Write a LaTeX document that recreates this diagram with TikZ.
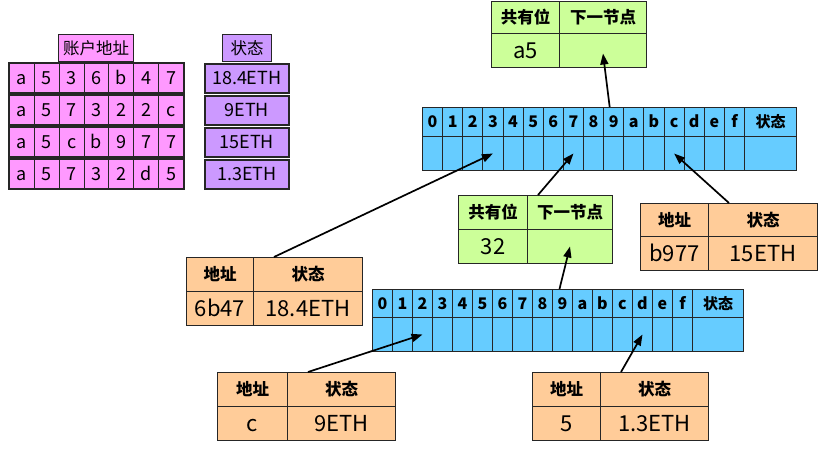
\documentclass[tikz,border=0pt]{standalone}
\usepackage{fontspec}
\setmainfont{Noto Sans CJK SC}
\usetikzlibrary{arrows.meta}
\definecolor{pinkc}{HTML}{FF99FF}
\definecolor{purc}{HTML}{CC99FF}
\definecolor{greenc}{HTML}{CCFF99}
\definecolor{orangec}{HTML}{FFCC99}
\definecolor{bluec}{HTML}{66CCFF}
\newcommand\mycell[8]{\node[cellb, fill=#6, minimum width=#4pt, minimum height=#5pt, #7] (#1) at (#2,#3) {#8};}
\begin{document}
\begin{tikzpicture}[x=1pt,y=-1pt,
  cellb/.style={draw=black!85, line width=1pt, inner sep=0pt, anchor=north west, text depth=0pt},
  conn/.style={line width=1.7pt, -{Triangle[length=11pt,width=8pt]}},
  tl/.style={font=\fontsize{18}{20}\selectfont, text height=13.1pt},
  tlh/.style={font=\fontsize{16.5}{18}\selectfont, text height=12pt},
  bh/.style={font=\bfseries\fontsize{16}{18}\selectfont, text height=11.7pt},
  bhs/.style={font=\bfseries\fontsize{15}{17}\selectfont, text height=11pt},
  hh/.style={font=\bfseries\fontsize{16.5}{18}\selectfont, text height=12pt},
  vv/.style={font=\fontsize{22}{24}\selectfont, text height=16pt}]
\useasboundingbox (0,0) rectangle (827,466);
% top-left table
\mycell{hAddr}{58}{34}{75}{27}{pinkc}{tlh}{账户地址}
\mycell{hSt}{222}{34}{49}{27}{purc}{tlh}{状态}
\foreach \r/\y/\s/\v in {1/63/{a,5,3,6,b,4,7}/18.4ETH, 2/95/{a,5,7,3,2,2,c}/9ETH, 3/127/{a,5,c,b,9,7,7}/15ETH, 4/159/{a,5,7,3,2,d,5}/1.3ETH}{
  \foreach \ch [count=\i from 0] in \s {
    \node[cellb, fill=pinkc, minimum width=24.85pt, minimum height=29pt, tl] (a\r-\i) at ({9+\i*24.85},\y) {\ch};
  }
  \draw[line width=1.5pt, black!85] (a\r-0.north west) rectangle (a\r-6.south east);
  \node[cellb, fill=purc, minimum width=84pt, minimum height=29pt, tl, line width=1.5pt] (st\r) at (204,\y) {\v};
}
% extension node 1
\mycell{e1k}{491}{1}{68}{32}{greenc}{hh}{共有位}
\mycell{e1n}{559}{1}{87}{32}{greenc}{hh}{下一节点}
\mycell{e1v}{491}{33}{68}{34}{greenc}{vv}{a5}
\mycell{e1w}{559}{33}{87}{34}{greenc}{}{}
% branch node 1
\foreach \ch [count=\i from 0] in {0,1,2,3,4,5,6,7,8,9,a,b,c,d,e,f}{
  \node[cellb, fill=bluec, minimum width=20.125pt, minimum height=29pt, bh] (b1h\ch) at ({422+\i*20.125},107) {\ch};
  \node[cellb, fill=bluec, minimum width=20.125pt, minimum height=34pt] (b1v\ch) at ({422+\i*20.125},136) {};
}
\mycell{b1hs}{744}{107}{52}{29}{bluec}{bhs}{状态}
\mycell{b1vs}{744}{136}{52}{34}{bluec}{}{}
% extension node 2
\mycell{e2k}{458}{195}{69}{34}{greenc}{hh}{共有位}
\mycell{e2n}{527}{195}{85}{34}{greenc}{hh}{下一节点}
\mycell{e2v}{458}{229}{69}{34}{greenc}{vv}{32}
\mycell{e2w}{527}{229}{85}{34}{greenc}{}{}
% leaf b977
\mycell{l3k}{640}{203}{68}{33}{orangec}{hh}{地址}
\mycell{l3s}{708}{203}{109}{33}{orangec}{hh}{状态}
\mycell{l3v}{640}{236}{68}{34}{orangec}{vv}{b977}
\mycell{l3w}{708}{236}{109}{34}{orangec}{vv}{15ETH}
% leaf 6b47
\mycell{l1k}{186}{257}{67}{34}{orangec}{hh}{地址}
\mycell{l1s}{253}{257}{109}{34}{orangec}{hh}{状态}
\mycell{l1v}{186}{291}{67}{34}{orangec}{vv}{6b47}
\mycell{l1w}{253}{291}{109}{34}{orangec}{vv}{18.4ETH}
% branch node 2
\foreach \ch [count=\i from 0] in {0,1,2,3,4,5,6,7,8,9,a,b,c,d,e,f}{
  \node[cellb, fill=bluec, minimum width=20pt, minimum height=28pt, bh] (b2h\ch) at ({372+\i*20},289) {\ch};
  \node[cellb, fill=bluec, minimum width=20pt, minimum height=34pt] (b2v\ch) at ({372+\i*20},317) {};
}
\mycell{b2hs}{692}{289}{51}{28}{bluec}{bhs}{状态}
\mycell{b2vs}{692}{317}{51}{34}{bluec}{}{}
% leaf c
\mycell{l4k}{217}{372}{70}{34}{orangec}{hh}{地址}
\mycell{l4s}{287}{372}{108}{34}{orangec}{hh}{状态}
\mycell{l4v}{217}{406}{70}{34}{orangec}{vv}{c}
\mycell{l4w}{287}{406}{108}{34}{orangec}{vv}{9ETH}
% leaf 5
\mycell{l5k}{532}{372}{68}{34}{orangec}{hh}{地址}
\mycell{l5s}{600}{372}{108}{34}{orangec}{hh}{状态}
\mycell{l5v}{532}{406}{68}{34}{orangec}{vv}{5}
\mycell{l5w}{600}{406}{108}{34}{orangec}{vv}{1.3ETH}
% connectors
\coordinate (s1) at ([xshift=20pt]l1k.north east);
\coordinate (s2) at ([xshift=10pt]e2k.north east);
\coordinate (s3) at ([xshift=20pt]l3k.north east);
\coordinate (s4) at ([xshift=-4pt]b1h9.north);
\coordinate (s5) at ([xshift=-3pt]b2h9.north);
\coordinate (s6) at ([xshift=20pt]l4k.north east);
\coordinate (s7) at ([xshift=20pt]l5k.north east);
\draw[conn] (s1) -- (b1v3.center);
\draw[conn] (s2) -- (b1v7.center);
\draw[conn] (s3) -- (b1vc.center);
\draw[conn] (s4) -- ([yshift=-3pt]e1w.center);
\draw[conn] (s5) -- (e2w.center);
\draw[conn] (s6) -- (b2v2.center);
\draw[conn] (s7) -- (b2vd.center);
\end{tikzpicture}
\end{document}
